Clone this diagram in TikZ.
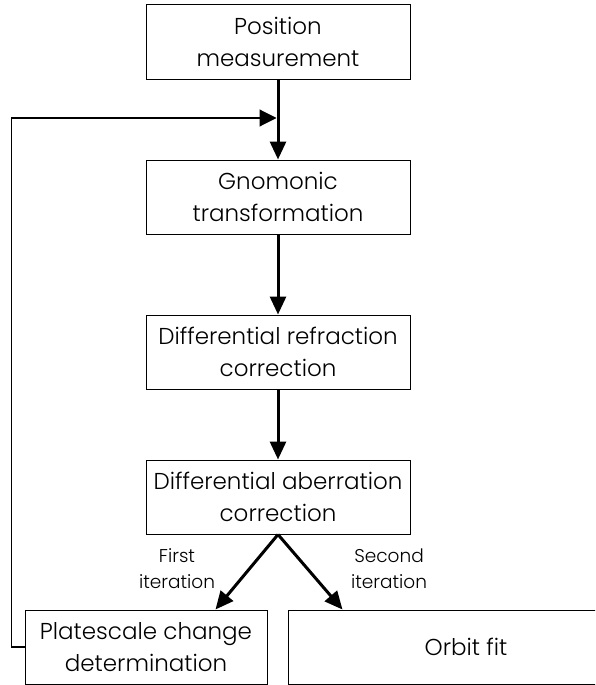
\documentclass[tikz,border=0pt]{standalone}
\usepackage{fontspec}
\setmainfont{Poppins}[UprightFont=* Light]
\usetikzlibrary{arrows.meta}

\begin{document}
\begin{tikzpicture}[x=1pt,y=-1pt,
	stage/.style={draw,line width=1pt,minimum width=264pt,minimum height=74pt,inner sep=0pt,align=center,font=\fontsize{23}{32}\selectfont},
	flow/.style={line width=3pt,-{Triangle[length=18pt,width=16pt]}},
	loop/.style={line width=1.1pt,-{Triangle[length=17pt,width=17pt]}},
	note/.style={align=center,font=\fontsize{18.5}{26}\selectfont}]
		\useasboundingbox (0,0) rectangle (595,685);
		\clip (0,0) rectangle (595,685);
		\node[stage] (pos) at (278,42) {Position\\measurement};
		\node[stage] (gno) at (278,197) {Gnomonic\\transformation};
		\node[stage] (ref) at (278,352) {Differential refraction\\correction};
		\node[stage] (abe) at (278,497) {Differential aberration\\correction};
		\node[stage,minimum width=242pt] (plate) at (146,647) {Platescale change\\determination};
		\node[stage,minimum width=356pt] (orbit) at (466,647) {Orbit fit};
		\coordinate (join) at (278,118);
		\draw[flow] (pos) -- (gno);
		\draw[flow] (gno) -- (ref);
		\draw[flow] (ref) -- (abe);
		\draw[flow] (abe.south) -- ([xshift=-52pt]plate.north east);
		\draw[flow] (abe.south) -- ([xshift=55pt]orbit.north west);
		\draw[loop] (plate.west) -- ++(-13,0) |- ([xshift=-1.5pt]join);
		\node[note] (first) at (177,569) {First\\iteration};
		\node[note] (second) at (389,569) {Second\\iteration};
	\end{tikzpicture}
\end{document}
